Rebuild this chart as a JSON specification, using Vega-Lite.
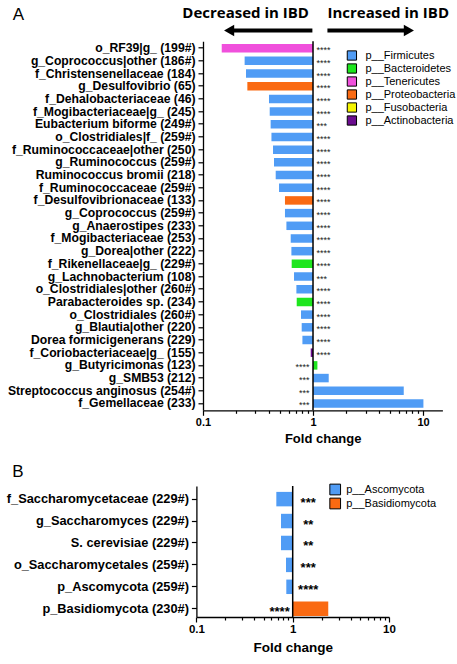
{
  "$schema": "https://vega.github.io/schema/vega-lite/v6.json",
  "background": "white",
  "padding": {"left": 6, "top": 5, "right": 2, "bottom": 2},
  "config": {
    "view": {"stroke": null},
    "axis": {"grid": false, "domainColor": "black", "tickColor": "black", "labelColor": "black", "titleColor": "black"},
    "legend": {"labelColor": "black"}
  },
  "datasets": {
    "one": [{}],
    "taxaA": [
      {"taxon": "o_RF39|g_ (199#)", "fc": 0.148, "phylum": "p__Tenericutes", "sig": "****"},
      {"taxon": "g_Coprococcus|other (186#)", "fc": 0.239, "phylum": "p__Firmicutes", "sig": "****"},
      {"taxon": "f_Christensenellaceae (184)", "fc": 0.246, "phylum": "p__Firmicutes", "sig": "****"},
      {"taxon": "g_Desulfovibrio (65)", "fc": 0.253, "phylum": "p__Proteobacteria", "sig": "****"},
      {"taxon": "f_Dehalobacteriaceae (46)", "fc": 0.398, "phylum": "p__Firmicutes", "sig": "****"},
      {"taxon": "f_Mogibacteriaceae|g_ (245)", "fc": 0.404, "phylum": "p__Firmicutes", "sig": "****"},
      {"taxon": "Eubacterium biforme (249#)", "fc": 0.412, "phylum": "p__Firmicutes", "sig": "***"},
      {"taxon": "o_Clostridiales|f_ (259#)", "fc": 0.419, "phylum": "p__Firmicutes", "sig": "****"},
      {"taxon": "f_Ruminococcaceae|other (250)", "fc": 0.433, "phylum": "p__Firmicutes", "sig": "****"},
      {"taxon": "g_Ruminococcus (259#)", "fc": 0.442, "phylum": "p__Firmicutes", "sig": "****"},
      {"taxon": "Ruminococcus bromii (218)", "fc": 0.458, "phylum": "p__Firmicutes", "sig": "****"},
      {"taxon": "f_Ruminococcaceae (259#)", "fc": 0.491, "phylum": "p__Firmicutes", "sig": "****"},
      {"taxon": "f_Desulfovibrionaceae (133)", "fc": 0.556, "phylum": "p__Proteobacteria", "sig": "****"},
      {"taxon": "g_Coprococcus (259#)", "fc": 0.556, "phylum": "p__Firmicutes", "sig": "****"},
      {"taxon": "g_Anaerostipes (233)", "fc": 0.573, "phylum": "p__Firmicutes", "sig": "****"},
      {"taxon": "f_Mogibacteriaceae (253)", "fc": 0.627, "phylum": "p__Firmicutes", "sig": "****"},
      {"taxon": "g_Dorea|other (222)", "fc": 0.636, "phylum": "p__Firmicutes", "sig": "****"},
      {"taxon": "f_Rikenellaceae|g_ (229#)", "fc": 0.640, "phylum": "p__Bacteroidetes", "sig": "****"},
      {"taxon": "g_Lachnobacterium (108)", "fc": 0.672, "phylum": "p__Firmicutes", "sig": "***"},
      {"taxon": "o_Clostridiales|other (260#)", "fc": 0.706, "phylum": "p__Firmicutes", "sig": "****"},
      {"taxon": "Parabacteroides sp. (234)", "fc": 0.711, "phylum": "p__Bacteroidetes", "sig": "****"},
      {"taxon": "o_Clostridiales (260#)", "fc": 0.778, "phylum": "p__Firmicutes", "sig": "****"},
      {"taxon": "g_Blautia|other (220)", "fc": 0.789, "phylum": "p__Firmicutes", "sig": "****"},
      {"taxon": "Dorea formicigenerans (229)", "fc": 0.801, "phylum": "p__Firmicutes", "sig": "****"},
      {"taxon": "f_Coriobacteriaceae|g_ (155)", "fc": 0.953, "phylum": "p__Actinobacteria", "sig": "****"},
      {"taxon": "g_Butyricimonas (123)", "fc": 1.096, "phylum": "p__Bacteroidetes", "sig": "****"},
      {"taxon": "g_SMB53 (212)", "fc": 1.389, "phylum": "p__Firmicutes", "sig": "***"},
      {"taxon": "Streptococcus anginosus (254#)", "fc": 6.68, "phylum": "p__Firmicutes", "sig": "***"},
      {"taxon": "f_Gemellaceae (233)", "fc": 10.08, "phylum": "p__Firmicutes", "sig": "***"}
    ],
    "taxaB": [
      {"taxon": "f_Saccharomycetaceae (229#)", "fc": 0.676, "phylum": "p__Ascomycota", "sig": "***"},
      {"taxon": "g_Saccharomyces (229#)", "fc": 0.756, "phylum": "p__Ascomycota", "sig": "**"},
      {"taxon": "S. cerevisiae (229#)", "fc": 0.756, "phylum": "p__Ascomycota", "sig": "**"},
      {"taxon": "o_Saccharomycetales (259#)", "fc": 0.852, "phylum": "p__Ascomycota", "sig": "***"},
      {"taxon": "p_Ascomycota (259#)", "fc": 0.858, "phylum": "p__Ascomycota", "sig": "****"},
      {"taxon": "p_Basidiomycota (230#)", "fc": 2.34, "phylum": "p__Basidiomycota", "sig": "****"}
    ]
  },
  "spacing": 16,
  "resolve": {"scale": {"color": "independent"}},
  "vconcat": [
    {
      "spacing": 3.3,
      "resolve": {"scale": {"color": "independent"}},
      "vconcat": [
        {
          "width": 239.4,
          "height": 30,
          "layer": [
            {
              "data": {"name": "one"},
              "mark": {"type": "text", "text": "A", "font": "Liberation Sans", "fontSize": 17, "align": "center", "baseline": "alphabetic", "color": "black"},
              "encoding": {
                "x": {"datum": 0.0021, "type": "quantitative", "scale": {"type": "log", "domain": [0.1, 15], "nice": false}, "axis": null},
                "y": {"datum": 14.8, "type": "quantitative", "scale": {"domain": [0, 30], "nice": false}, "axis": null}
              }
            },
            {
              "data": {"name": "one"},
              "mark": {"type": "text", "text": "Decreased in IBD", "font": "Open Sans", "fontWeight": "bold", "fontSize": 15, "align": "center", "baseline": "alphabetic", "color": "black"},
              "encoding": {
                "x": {"datum": 0.244, "type": "quantitative"},
                "y": {"datum": 16.7, "type": "quantitative"}
              }
            },
            {
              "data": {"name": "one"},
              "mark": {"type": "text", "text": "Increased in IBD", "font": "Open Sans", "fontWeight": "bold", "fontSize": 15, "align": "center", "baseline": "alphabetic", "color": "black"},
              "encoding": {
                "x": {"datum": 4.83, "type": "quantitative"},
                "y": {"datum": 16.7, "type": "quantitative"}
              }
            },
            {
              "data": {"name": "one"},
              "mark": {"type": "rule", "color": "black", "strokeWidth": 4},
              "encoding": {
                "x": {"datum": 0.1727, "type": "quantitative"},
                "x2": {"datum": 0.987},
                "y": {"datum": 4.5, "type": "quantitative"}
              }
            },
            {
              "data": {"name": "one"},
              "mark": {"type": "rule", "color": "black", "strokeWidth": 4},
              "encoding": {
                "x": {"datum": 1.352, "type": "quantitative"},
                "x2": {"datum": 7.44},
                "y": {"datum": 4.5, "type": "quantitative"}
              }
            },
            {
              "data": {"name": "one"},
              "mark": {"type": "point", "shape": "triangle-left", "filled": true, "size": 137, "color": "black", "opacity": 1},
              "encoding": {
                "x": {"datum": 0.1727, "type": "quantitative"},
                "y": {"datum": 4.5, "type": "quantitative"}
              }
            },
            {
              "data": {"name": "one"},
              "mark": {"type": "point", "shape": "triangle-right", "filled": true, "size": 137, "color": "black", "opacity": 1},
              "encoding": {
                "x": {"datum": 7.44, "type": "quantitative"},
                "y": {"datum": 4.5, "type": "quantitative"}
              }
            }
          ]
        },
        {
          "width": 239.4,
          "height": 369,
          "layer": [
            {
              "data": {"name": "taxaA"},
              "mark": {"type": "bar"},
              "encoding": {
                "y": {
                  "field": "taxon", "type": "nominal", "sort": null,
                  "scale": {"paddingInner": 0.33, "paddingOuter": 0.205},
                  "axis": {"title": null, "labelFont": "Liberation Sans", "labelFontWeight": "bold", "labelFontSize": 12.2, "labelPadding": 3, "tickSize": 5, "tickWidth": 1.2, "domainWidth": 1.3, "labelLimit": 400}
                },
                "x": {
                  "field": "fc", "type": "quantitative",
                  "scale": {"type": "log", "domain": [0.1, 15], "nice": false},
                  "axis": {
                    "title": "Fold change",
                    "values": [0.1, 0.2, 0.3, 0.4, 0.5, 0.6, 0.7, 0.8, 0.9, 1, 2, 3, 4, 5, 6, 7, 8, 9, 10],
                    "format": "~g",
                    "labelExpr": "(datum.value == 0.1 || datum.value == 1 || datum.value == 10) ? datum.label : ''",
                    "tickSize": {"condition": {"test": "datum.value == 0.1 || datum.value == 1 || datum.value == 10", "value": 5}, "value": 3},
                    "labelFlush": false, "labelOverlap": false,
                    "labelFont": "Liberation Sans", "labelFontWeight": "bold", "labelFontSize": 11, "labelPadding": 1.5,
                    "titleFont": "Liberation Sans", "titleFontWeight": "bold", "titleFontSize": 13, "titlePadding": 4.5,
                    "domainWidth": 1.3, "tickWidth": 1.2
                  }
                },
                "x2": {"datum": 1},
                "color": {
                  "field": "phylum", "type": "nominal",
                  "scale": {
                    "domain": ["p__Firmicutes", "p__Bacteroidetes", "p__Tenericutes", "p__Proteobacteria", "p__Fusobacteria", "p__Actinobacteria"],
                    "range": ["#509CF5", "#1EE61E", "#F050DC", "#FA6A12", "#F5F500", "#6B0D8F"]
                  },
                  "legend": {"title": null, "orient": "none", "legendX": 143.4, "legendY": 8.7, "symbolType": "square", "symbolSize": 86, "symbolStrokeColor": "black", "symbolStrokeWidth": 1, "symbolOpacity": 1, "labelFont": "Liberation Sans", "labelFontSize": 11, "labelOffset": 8, "rowPadding": -7, "padding": 0}
                }
              }
            },
            {
              "data": {"name": "one"},
              "mark": {"type": "rule", "color": "black", "strokeWidth": 1.5},
              "encoding": {"x": {"datum": 1, "type": "quantitative"}}
            },
            {
              "data": {"name": "taxaA"},
              "transform": [{"filter": "datum.fc < 1"}],
              "mark": {"type": "text", "align": "left", "baseline": "middle", "dx": 3.5, "dy": 2, "font": "Liberation Sans", "fontSize": 9, "color": "#222"},
              "encoding": {
                "y": {"field": "taxon", "type": "nominal", "sort": null},
                "x": {"datum": 1, "type": "quantitative"},
                "text": {"field": "sig"}
              }
            },
            {
              "data": {"name": "taxaA"},
              "transform": [{"filter": "datum.fc > 1"}],
              "mark": {"type": "text", "align": "right", "baseline": "middle", "dx": -3.5, "dy": 2, "font": "Liberation Sans", "fontSize": 9, "color": "#222"},
              "encoding": {
                "y": {"field": "taxon", "type": "nominal", "sort": null},
                "x": {"datum": 1, "type": "quantitative"},
                "text": {"field": "sig"}
              }
            }
          ]
        }
      ]
    },
    {
      "width": 186,
      "height": 131,
      "title": {"text": "B", "anchor": "start", "frame": "bounds", "font": "Liberation Sans", "fontSize": 17, "fontWeight": "normal", "color": "black", "baseline": "alphabetic", "offset": -10, "dx": 6},
      "layer": [
        {
          "data": {"name": "taxaB"},
          "mark": {"type": "bar"},
          "encoding": {
            "y": {
              "field": "taxon", "type": "nominal", "sort": null,
              "scale": {"paddingInner": 0.34, "paddingOuter": 0.158, "align": 0.85},
              "axis": {"title": null, "offset": 6.6, "labelFont": "Liberation Sans", "labelFontWeight": "bold", "labelFontSize": 12.8, "labelPadding": 3, "tickSize": 5, "tickWidth": 1.2, "domainWidth": 1.3, "labelLimit": 400}
            },
            "x": {
              "field": "fc", "type": "quantitative",
              "scale": {"type": "log", "domain": [0.1, 10], "range": [-6.6, 186], "nice": false},
              "axis": {
                "title": "Fold change",
                "values": [0.1, 0.2, 0.3, 0.4, 0.5, 0.6, 0.7, 0.8, 0.9, 1, 2, 3, 4, 5, 6, 7, 8, 9, 10],
                "format": "~g",
                "labelExpr": "(datum.value == 0.1 || datum.value == 1 || datum.value == 10) ? datum.label : ''",
                "tickSize": {"condition": {"test": "datum.value == 0.1 || datum.value == 1 || datum.value == 10", "value": 5}, "value": 3},
                "labelFlush": false, "labelOverlap": false,
                "labelFont": "Liberation Sans", "labelFontWeight": "bold", "labelFontSize": 11.5, "labelPadding": 1,
                "titleFont": "Liberation Sans", "titleFontWeight": "bold", "titleFontSize": 13.5, "titlePadding": 6,
                "domainWidth": 1.3, "tickWidth": 1.2
              }
            },
            "x2": {"datum": 1},
            "color": {
              "field": "phylum", "type": "nominal",
              "scale": {"domain": ["p__Ascomycota", "p__Basidiomycota"], "range": ["#509CF5", "#FA6A12"]},
              "legend": {"title": null, "orient": "none", "legendX": 126.2, "legendY": -2.5, "symbolType": "square", "symbolSize": 115, "symbolStrokeColor": "black", "symbolStrokeWidth": 1, "symbolOpacity": 1, "labelFont": "Liberation Sans", "labelFontSize": 11, "labelOffset": 5, "rowPadding": -9, "padding": 0}
            }
          }
        },
        {
          "data": {"name": "one"},
          "mark": {"type": "rule", "color": "black", "strokeWidth": 1.5},
          "encoding": {"x": {"datum": 1, "type": "quantitative"}}
        },
        {
          "data": {"name": "taxaB"},
          "transform": [{"filter": "datum.fc < 1"}],
          "mark": {"type": "text", "align": "center", "baseline": "middle", "dx": 15.5, "dy": 3.5, "font": "Liberation Sans", "fontWeight": "bold", "fontSize": 13, "color": "black"},
          "encoding": {
            "y": {"field": "taxon", "type": "nominal", "sort": null},
            "x": {"datum": 1, "type": "quantitative"},
            "text": {"field": "sig"}
          }
        },
        {
          "data": {"name": "taxaB"},
          "transform": [{"filter": "datum.fc > 1"}],
          "mark": {"type": "text", "align": "right", "baseline": "middle", "dx": -3, "dy": 3.5, "font": "Liberation Sans", "fontWeight": "bold", "fontSize": 13, "color": "black"},
          "encoding": {
            "y": {"field": "taxon", "type": "nominal", "sort": null},
            "x": {"datum": 1, "type": "quantitative"},
            "text": {"field": "sig"}
          }
        }
      ]
    }
  ]
}
